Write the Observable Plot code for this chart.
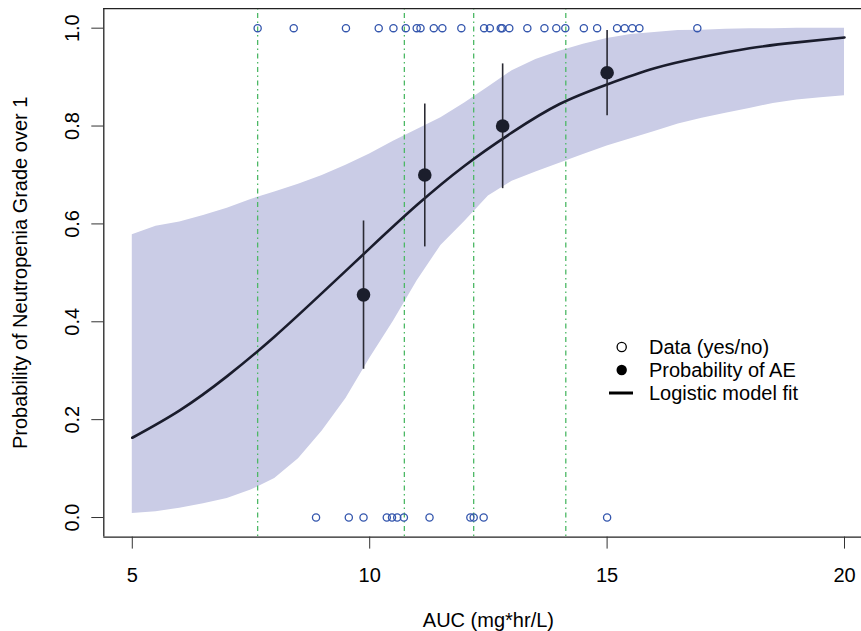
<!DOCTYPE html>
<html>
<head>
<meta charset="utf-8">
<script src="https://cdn.jsdelivr.net/npm/d3@7"></script>
<script src="https://cdn.jsdelivr.net/npm/@observablehq/plot@0.6"></script>
<style>
html, body { margin: 0; padding: 0; background: #fff; overflow: hidden; }
#wrap { position: relative; width: 861px; height: 631px; font-family: "Liberation Sans", Arial, Helvetica, sans-serif; }
#chart svg { display: block; overflow: hidden; }
.lrow { position: absolute; left: 600px; height: 24px; display: flex; align-items: center; font-size: 20px; color: #000; white-space: nowrap; }
.lrow svg { display: block; }
</style>
</head>
<body>
<div id="wrap">
  <div id="chart"></div>
</div>
<script>
// ---------- data ----------
// observed AUC values with event (y = 1) and without event (y = 0)
const aucYes = [7.64, 8.40, 9.50, 10.19, 10.50, 10.76, 10.99, 11.07, 11.35, 11.53, 11.93,
                12.41, 12.53, 12.76, 12.79, 12.94, 13.32, 13.68, 13.93, 14.12, 14.51, 14.79,
                15.21, 15.37, 15.53, 15.68, 16.90];
const aucNo = [8.87, 9.56, 9.87, 10.36, 10.47, 10.58, 10.72, 11.26, 12.12, 12.19, 12.40, 15.00];

// quantile reference lines
const quantileLines = [7.64, 10.73, 12.19, 14.13];

// binned probability of AE with intervals
const binAUC = [9.87, 11.16, 12.80, 15.00];
const binProb = [0.455, 0.700, 0.800, 0.909];
const binLow = [0.303, 0.553, 0.672, 0.821];
const binHigh = [0.606, 0.845, 0.927, 0.995];

// logistic model fit
const fitAUC = [5, 6, 7, 8, 9, 10, 11, 12, 13, 14, 15, 16, 17, 18, 19, 20];
const fitProb = [0.163, 0.219, 0.289, 0.370, 0.459, 0.550, 0.639, 0.719, 0.787, 0.845,
                 0.885, 0.918, 0.941, 0.959, 0.971, 0.981];

// confidence band
const bandAUC = [5.0, 5.5, 6.0, 6.5, 7.0, 7.5, 8.0, 8.5, 9.0, 9.5, 10.0, 10.5, 11.0, 11.5,
                 12.0, 12.5, 13.0, 13.5, 14.0, 14.5, 15.0, 15.5, 16.0, 16.5, 17.0, 17.5,
                 18.0, 18.5, 19.0, 19.5, 20.0];
const bandLow = [0.008, 0.012, 0.019, 0.028, 0.039, 0.056, 0.080, 0.120, 0.177, 0.243, 0.325,
                 0.401, 0.484, 0.556, 0.605, 0.657, 0.687, 0.706, 0.724, 0.742, 0.759, 0.774,
                 0.789, 0.804, 0.816, 0.826, 0.836, 0.846, 0.853, 0.858, 0.862];
const bandHigh = [0.578, 0.595, 0.604, 0.617, 0.632, 0.650, 0.665, 0.681, 0.699, 0.720, 0.743,
                  0.769, 0.793, 0.817, 0.847, 0.880, 0.913, 0.936, 0.953, 0.967, 0.979, 0.987,
                  0.991, 0.995, 0.996, 0.998, 0.999, 0.999, 1.000, 1.000, 1.000];

// axes
const xTicks = [5, 10, 15, 20];
const yTicks = [0, 0.2, 0.4, 0.6, 0.8, 1.0];
const xDomain = [4.4, 20.6];
const yDomain = [-0.04, 1.04];
const xLabel = "AUC (mg*hr/L)";
const yLabel = "Probability of Neutropenia Grade over 1";
const legendItems = ["Data (yes/no)", "Probability of AE", "Logistic model fit"];

(function () {
  const band = bandAUC.map((x, i) => ({x, lo: bandLow[i], hi: bandHigh[i]}));
  const fit = fitAUC.map((x, i) => ({x, p: fitProb[i]}));
  const bins = binAUC.map((x, i) => ({x, p: binProb[i], lo: binLow[i], hi: binHigh[i]}));
  const obs = [...aucYes.map(x => ({x, y: 1})), ...aucNo.map(x => ({x, y: 0}))];

  const W = 861, H = 631;
  const pL = 103.3, pR = 872.5, pT = 8.1, pB = 536.6;

  const chart = Plot.plot({
    width: W,
    height: H,
    marginLeft: pL,
    marginRight: 0,
    marginTop: pT,
    marginBottom: H - pB,
    style: {fontFamily: '"Liberation Sans", Arial, Helvetica, sans-serif', fontSize: "20px", background: "#fff", color: "#000"},
    x: {domain: xDomain, range: [pL, pR]},
    y: {domain: yDomain, range: [pB, pT]},
    marks: [
      Plot.areaY(band, {x: "x", y1: "lo", y2: "hi", fill: "#cacce6", fillOpacity: 1}),
      Plot.ruleX(quantileLines, {stroke: "#4cb865", strokeWidth: 1.3, strokeDasharray: "1.5,3.5,5,3.5"}),
      Plot.line(fit, {x: "x", y: "p", stroke: "#1a1c2c", strokeWidth: 2.6, curve: "natural"}),
      Plot.ruleX(bins, {x: "x", y1: "lo", y2: "hi", stroke: "#2a2a33", strokeWidth: 1.6}),
      Plot.dot(bins, {x: "x", y: "p", r: 6.8, fill: "#1b1e2c", stroke: "none"}),
      Plot.dot(obs, {x: "x", y: "y", r: 3.6, fill: "none", stroke: "#3456ad", strokeWidth: 1.3}),
      Plot.ruleY([yDomain[0], yDomain[1]], {x1: xDomain[0], x2: xDomain[1], stroke: "#222", strokeWidth: 1.3}),
      Plot.ruleX([xDomain[0]], {y1: yDomain[0], y2: yDomain[1], stroke: "#222", strokeWidth: 1.3}),
      Plot.axisX(xTicks, {tickSize: 12, tickPadding: 19, tickFormat: d => String(d), fontSize: 20, label: null, stroke: "#333"}),
      Plot.axisY(yTicks, {tickSize: 12, tickPadding: 13, tickRotate: -90, tickFormat: d => d.toFixed(1), fontSize: 20, label: null, stroke: "#333"}),
      Plot.text([xLabel], {x: (xDomain[0] + xDomain[1]) / 2, frameAnchor: "bottom", dy: 90, fontSize: 20, fill: "#000"}),
      Plot.text([yLabel], {frameAnchor: "left", textAnchor: "middle", dx: -83, rotate: -90, fontSize: 20, fill: "#000"})
    ]
  });
  document.getElementById("chart").appendChild(chart);

  const wrap = document.getElementById("wrap");
  const centers = [347, 370, 393];
  const swatches = [
    '<circle cx="21.7" cy="12" r="4.6" fill="none" stroke="#000" stroke-width="1.3"/>',
    '<circle cx="21.7" cy="12" r="5.2" fill="#000"/>',
    '<line x1="9" y1="12" x2="33" y2="12" stroke="#000" stroke-width="3"/>'
  ];
  legendItems.forEach((t, i) => {
    const row = document.createElement("div");
    row.className = "lrow";
    row.style.top = (centers[i] - 12) + "px";
    row.innerHTML = `<svg width="49" height="24">${swatches[i]}</svg><span>${t}</span>`;
    wrap.appendChild(row);
  });
})();
</script>
</body>
</html>
